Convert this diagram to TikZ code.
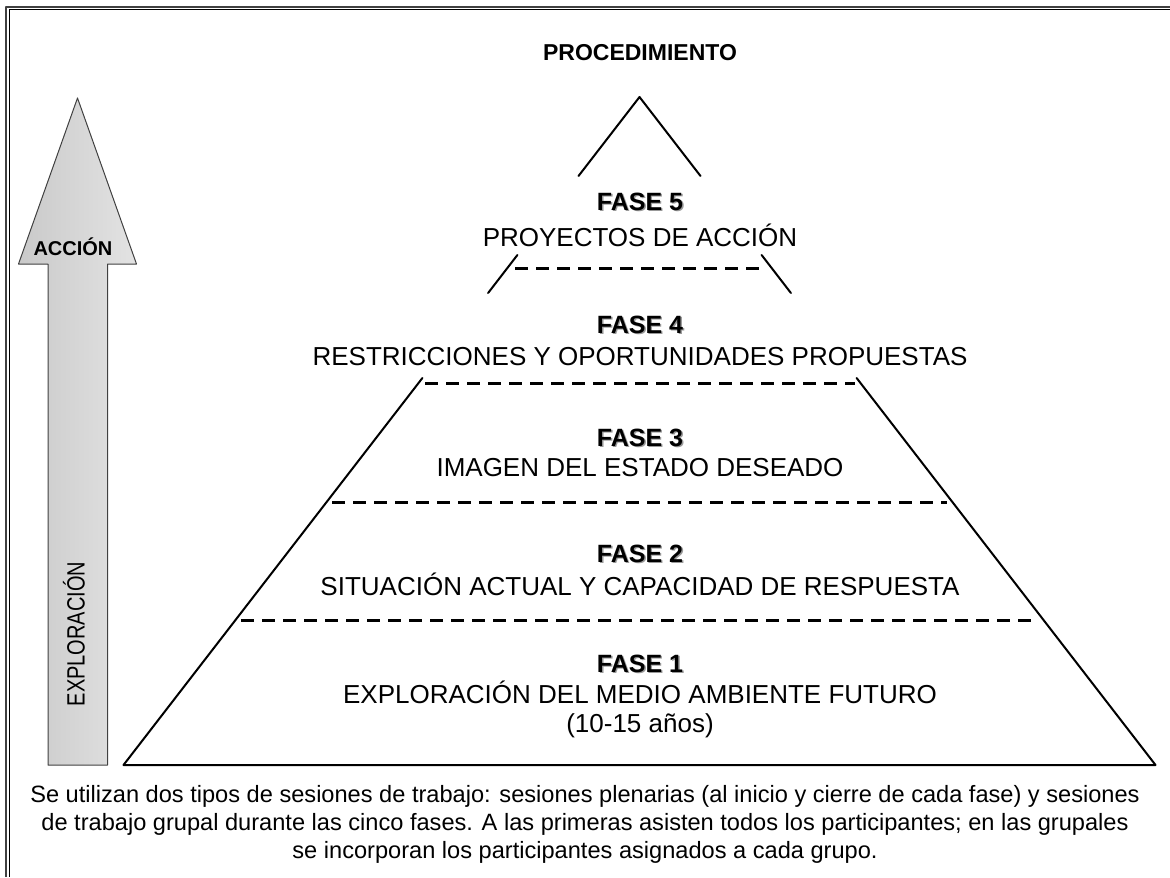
\documentclass[tikz,border=0pt]{standalone}
\usepackage{fontspec}
\setmainfont{Liberation Sans}
\newfontfamily\narrowfont[FakeStretch=0.8]{Liberation Sans}
\usepackage{tikz}

% bold phase title with a light drop shadow
\newcommand{\fasesombra}[1]{\leavevmode\rlap{\hspace{0.7pt}\raisebox{-0.7pt}{\color{black!40}#1}}#1}

\begin{document}
\begin{tikzpicture}[
			x=0.5pt,
			y=-0.5pt,
			line cap=round,
			line join=round,
			side/.style={line width=1pt},
			sep/.style={line width=1.5pt, line cap=butt, dash pattern=on 6.5pt off 4pt},
			fasenum/.style={anchor=base, font=\fontsize{12.5}{15}\selectfont\bfseries, inner sep=0pt},
			fasetxt/.style={anchor=base, font=\fontsize{13}{15}\selectfont, inner sep=0pt}
			]
			\useasboundingbox (0,0) rectangle (1170,877);
			
			% Double frame on the left and top
			\draw[line width=1.15pt, black!75, line cap=butt] (6,877) -- (6,7) -- (1170,7);
			\draw[line width=0.5pt, line cap=butt] (9.8,877) -- (9.8,9.8) -- (1170,9.8);
			
			% Title
			\node[anchor=base, font=\fontsize{11.5}{14}\selectfont\bfseries, inner sep=0pt] (proc) at (640,61) {PROCEDIMIENTO};
			
			% Arrow from exploration to action
			\draw[line width=0.5pt, draw=black!75, shading=axis, left color=black!21, right color=black!11]
			(48,765) -- (48,264) -- (18.5,264) -- (77.5,98) -- (136.5,264) -- (107.5,264) -- (107.5,765) -- cycle;
			\node[anchor=base, font=\fontsize{10}{12}\selectfont\bfseries, inner sep=0pt] (accion) at (73,255) {ACCIÓN};
			\node[rotate=90, font=\fontsize{12.5}{15}\narrowfont, inner sep=0pt] (exploracion) at (74,634) {EXPLORACIÓN};
			
			% Pyramid sides, cut into three pieces
			\draw[side] (578.5,176) -- (639.5,97) -- (700.5,176);
			\draw[side] (517.4,255) -- (488.1,293);
			\draw[side] (761.6,255) -- (790.9,293);
			\draw[side] (422.4,378) -- (123.5,765) -- (1155.5,765) -- (856.6,378);
			
			% Dashed limits between the phases
			\foreach \y/\a/\b in {268/515/762, 383/425/855, 502/332/947, 620/241/1037}
			{
				\draw[sep] (\a,\y) -- (\b,\y);
			}
			
			% Phases
			\node[fasenum] (f5) at (640,210) {\fasesombra{FASE 5}};
			\node[fasetxt] (t5) at (640,246.5) {PROYECTOS DE ACCIÓN};
			\node[fasenum] (f4) at (640,333) {\fasesombra{FASE 4}};
			\node[fasetxt] (t4) at (640,365) {RESTRICCIONES Y OPORTUNIDADES PROPUESTAS};
			\node[fasenum] (f3) at (640,446) {\fasesombra{FASE 3}};
			\node[fasetxt] (t3) at (640,476) {IMAGEN DEL ESTADO DESEADO};
			\node[fasenum] (f2) at (640,562) {\fasesombra{FASE 2}};
			\node[fasetxt] (t2) at (640,595) {SITUACIÓN ACTUAL Y CAPACIDAD DE RESPUESTA};
			\node[fasenum] (f1) at (640,672) {\fasesombra{FASE 1}};
			\node[fasetxt] (t1) at (640,703) {EXPLORACIÓN DEL MEDIO AMBIENTE FUTURO};
			\node[fasetxt] (a1) at (640,732) {(10-15 años)};
			
			% Note under the pyramid
			\node[anchor=north, align=center, font=\fontsize{11.8}{14}\selectfont, inner sep=0pt] (nota) at (585,785)
			{Se utilizan dos tipos de sesiones de trabajo: sesiones plenarias (al inicio y cierre de cada fase) y sesiones\\
				de trabajo grupal durante las cinco fases. A las primeras asisten todos los participantes; en las grupales\\
				se incorporan los participantes asignados a cada grupo.};
		\end{tikzpicture}
\end{document}
